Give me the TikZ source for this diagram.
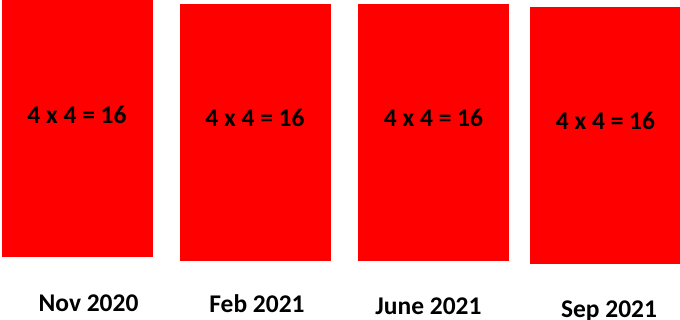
\documentclass[tikz,border=0pt]{standalone}
\usepackage{fontspec}
\setmainfont{Carlito}
\usepackage{tikz}
\usetikzlibrary{positioning}
\usepackage{xcolor}
\definecolor{panelred}{RGB}{255,0,0}

\begin{document}
\begin{tikzpicture}[x=0.02cm,y=-0.02cm,line join=round,font=\fontsize{14.5}{16}\selectfont\bfseries,
    panel/.style={fill=panelred},
    sum/.style={inner sep=0pt,anchor=center},
    month/.style={inner sep=0pt,anchor=base}]
  \useasboundingbox (0,0) rectangle (680,320);
  % panels
  \fill[panel] (2,0) rectangle (153,257);
  \fill[panel] (180,4) rectangle (331,261);
  \fill[panel] (358,4) rectangle (509,261);
  \fill[panel] (530,7) rectangle (680,264);
  % sums in the panels
  \node[sum] (sumA) at (77,115){4 x 4 = 16};
  \node[sum] (sumB) at (255,118){4 x 4 = 16};
  \node[sum] (sumC) at (433.5,118){4 x 4 = 16};
  \node[sum] (sumD) at (605.5,121){4 x 4 = 16};
  % months below
  \node[month] (nov) at (88.5,312){Nov 2020};
  \node[month] (feb) at (257,313){Feb 2021};
  \node[month] (jun) at (428.5,315){June 2021};
  \node[month] (sep) at (609,318){Sep 2021};
\end{tikzpicture}
\end{document}
